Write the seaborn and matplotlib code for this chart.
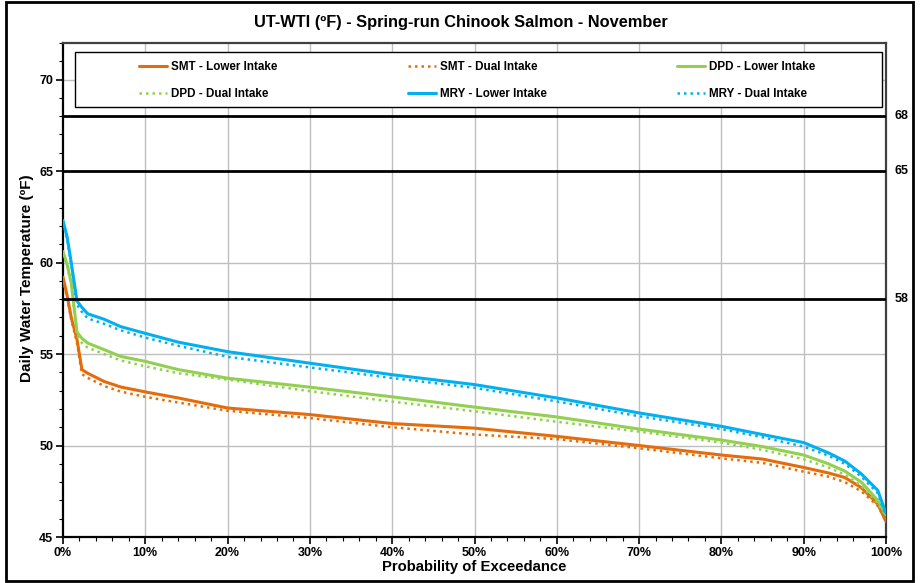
import matplotlib
matplotlib.use("Agg")
import matplotlib.pyplot as plt
import seaborn as sns
import pandas as pd
from matplotlib.patches import Rectangle
from matplotlib.ticker import MultipleLocator, FuncFormatter

# ---------------- data ----------------
exceedance = [0, 0.5, 1, 1.7, 2.3, 3, 5, 7, 10, 14, 20, 30, 40, 50, 60, 70, 80, 85, 90, 93, 95, 97, 99, 100]

smt_lower = [59.2, 58.2, 57.0, 55.8, 54.15, 53.95, 53.5, 53.2, 52.93, 52.6, 52.05, 51.69, 51.2, 50.95, 50.5, 50.0, 49.48, 49.26, 48.8, 48.5, 48.25, 47.7, 46.8, 45.84]
smt_dual = [59.1, 58.1, 56.9, 55.6, 53.9, 53.7, 53.25, 52.95, 52.66, 52.35, 51.9, 51.5, 51.0, 50.6, 50.35, 49.85, 49.3, 49.05, 48.57, 48.3, 48.0, 47.5, 46.7, 45.9]
dpd_lower = [60.6, 59.9, 58.9, 56.2, 55.85, 55.6, 55.24, 54.87, 54.6, 54.15, 53.68, 53.19, 52.66, 52.1, 51.56, 50.9, 50.3, 49.94, 49.48, 49.0, 48.6, 48.0, 47.0, 46.2]
dpd_dual = [60.5, 59.8, 58.8, 56.0, 55.6, 55.35, 55.0, 54.65, 54.33, 53.95, 53.6, 52.97, 52.4, 51.87, 51.3, 50.76, 50.16, 49.76, 49.25, 48.8, 48.4, 47.8, 46.85, 46.1]
mry_lower = [62.3, 61.4, 60.0, 57.9, 57.55, 57.2, 56.9, 56.5, 56.13, 55.65, 55.13, 54.5, 53.87, 53.33, 52.6, 51.78, 51.05, 50.6, 50.16, 49.6, 49.15, 48.45, 47.55, 46.3]
mry_dual = [62.2, 61.3, 59.9, 57.7, 57.3, 56.95, 56.65, 56.3, 55.9, 55.45, 54.85, 54.27, 53.69, 53.15, 52.41, 51.6, 50.9, 50.45, 49.94, 49.45, 49.0, 48.3, 47.4, 46.1]

series_names = ["SMT - Lower Intake", "SMT - Dual Intake", "DPD - Lower Intake",
                "DPD - Dual Intake", "MRY - Lower Intake", "MRY - Dual Intake"]
series_values = [smt_lower, smt_dual, dpd_lower, dpd_dual, mry_lower, mry_dual]

thresholds = [58, 65, 68]
x_ticks = list(range(0, 101, 10))
y_ticks = [45, 50, 55, 60, 65, 70]

title = "UT-WTI (ºF) - Spring-run Chinook Salmon - November"
x_label = "Probability of Exceedance"
y_label = "Daily Water Temperature (ºF)"

# ---------------- style ----------------
sns.set_theme(style="white")
plt.rcParams["font.family"] = ["Liberation Sans", "DejaVu Sans"]
plt.rcParams["font.weight"] = "bold"
plt.rcParams["text.color"] = "black"
plt.rcParams["axes.labelcolor"] = "black"
plt.rcParams["xtick.color"] = "black"
plt.rcParams["ytick.color"] = "black"

colors = {"SMT": "#E46C0A", "DPD": "#92D050", "MRY": "#00B0F0"}

fig = plt.figure(figsize=(9.22, 5.83), dpi=100)
ax = fig.add_axes([63 / 922, 1 - 537 / 583, (886 - 63) / 922, (537 - 43) / 583])

# grid
for xv in x_ticks[1:-1]:
    ax.axvline(xv, color="#BFBFBF", lw=1.0, zorder=0)
for yv in [50, 55, 60, 70]:
    ax.axhline(yv, color="#BFBFBF", lw=1.0, zorder=0)

for name, vals in zip(series_names, series_values):
    key = name.split(" ")[0]
    dual = "Dual" in name
    df = pd.DataFrame({"x": exceedance, "y": vals})
    sns.lineplot(data=df, x="x", y="y", ax=ax, color=colors[key],
                 lw=1.8 if dual else 2.2,
                 linestyle=(0, (1, 1.6)) if dual else "-",
                 zorder=3, label=name, sort=False)

for t in thresholds:
    ax.axhline(t, color="black", lw=2.0, zorder=4)
    ax.text(1.0105, t, str(t), transform=ax.get_yaxis_transform(), ha="left",
            va="center", fontsize=9, fontweight="bold", clip_on=False)

ax.set_xlim(0, 100)
ax.set_ylim(45, 72)
ax.set_xticks(x_ticks)
ax.set_yticks(y_ticks)
ax.xaxis.set_minor_locator(MultipleLocator(2))
ax.yaxis.set_minor_locator(MultipleLocator(1))
ax.xaxis.set_major_formatter(FuncFormatter(lambda v, p: f"{int(v)}%"))
ax.tick_params(axis="both", which="major", direction="out", length=5, width=1.2,
               labelsize=9, color="black", pad=2, bottom=True, left=True)
ax.tick_params(axis="both", which="minor", direction="out", length=3, width=0.8,
               color="black", bottom=True, left=True)
for lbl in ax.get_xticklabels() + ax.get_yticklabels():
    lbl.set_fontweight("bold")

for side in ["left", "bottom"]:
    ax.spines[side].set_color("black")
    ax.spines[side].set_linewidth(1.6)
for side in ["top", "right"]:
    ax.spines[side].set_color("#404040")
    ax.spines[side].set_linewidth(1.6)

ax.set_xlabel(x_label, fontsize=10.7, fontweight="bold", labelpad=1)
ax.set_ylabel(y_label, fontsize=11, fontweight="bold")
ax.yaxis.set_label_coords((34 - 63) / 823, (537 - 278) / 494)
fig.text(0.5, 1 - 22 / 583, title, ha="center", va="center", fontsize=11.8, fontweight="bold")

# legend frame (white box) and legend entries, row-major order in 3 columns
ax.add_patch(Rectangle((75 / 922, 1 - 107 / 583), 807 / 922, 55 / 583,
                       transform=fig.transFigure, facecolor="white",
                       edgecolor="black", lw=1.0, zorder=9, clip_on=False))
h, l = ax.get_legend_handles_labels()
order = [0, 3, 1, 4, 2, 5]
leg = ax.legend([h[i] for i in order], [l[i] for i in order], ncol=3,
                loc="center", mode="expand",
                bbox_to_anchor=((139 - 63) / 823, (537 - 80.5) / 494 - 0.05,
                                (815 - 139) / 823, 0.1),
                frameon=False, prop={"size": 8.4, "weight": "bold"},
                handlelength=2.4, handletextpad=0.35, borderpad=0,
                borderaxespad=0, labelspacing=1.25)
leg.set_zorder(10)

# outer frame
fig.patches.append(Rectangle((0.006, 0.004), 0.984, 0.992, transform=fig.transFigure,
                             fill=False, edgecolor="black", lw=2.0))

fig.savefig("out.png", dpi=100)
